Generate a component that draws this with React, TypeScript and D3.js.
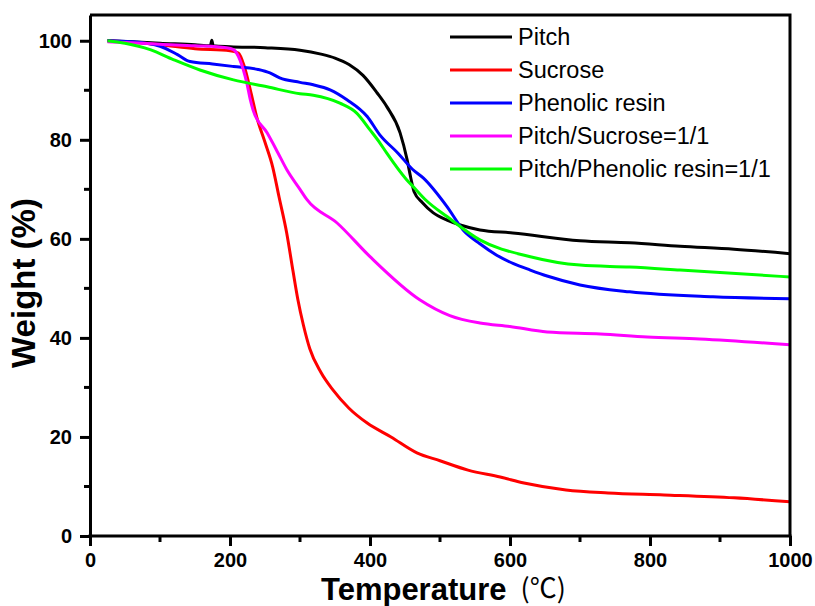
import React, { useEffect, useRef } from "react";
import * as d3 from "d3";

// TGA curves (temperature in ℃, weight in %)
const seriesNames = [
  "Pitch",
  "Sucrose",
  "Phenolic resin",
  "Pitch/Sucrose=1/1",
  "Pitch/Phenolic resin=1/1",
];
const seriesColors = ["#000000", "#ff0000", "#0000ff", "#ff00ff", "#00ff00"];

const pitchT = [25, 60, 100, 150, 172, 174, 176, 200, 250, 300, 330, 350, 370, 390, 410, 424, 443, 453, 458, 463, 475, 490, 510, 529, 557, 604, 700, 771, 843, 920, 1000];
const pitchW = [100, 99.8, 99.5, 99.2, 99.0, 100.1, 99.0, 98.8, 98.6, 98.1, 97.3, 96.5, 95.2, 93.0, 89.5, 86.7, 81.4, 76, 72.5, 69.5, 67.3, 65.3, 63.8, 62.8, 61.8, 61.2, 59.6, 59.2, 58.5, 57.9, 57.0];

const sucroseT = [25, 60, 100, 150, 200, 212, 220, 230, 238, 250, 261, 270, 281, 290, 297, 305, 314, 330, 347, 370, 396, 430, 467, 500, 540, 586, 620, 680, 740, 820, 920, 1000];
const sucroseW = [100, 99.7, 99.2, 98.4, 98.0, 97.5, 95, 89.5, 84.7, 79.5, 74.5, 68.5, 61.2, 53.5, 47.7, 42.5, 37.8, 33, 29.5, 25.8, 22.8, 20, 16.8, 15.2, 13.3, 11.9, 10.7, 9.3, 8.7, 8.3, 7.7, 6.9];

const phenolicT = [25, 60, 100, 125, 143, 175, 205, 240, 257, 271, 300, 319, 343, 367, 396, 414, 440, 461, 476, 510, 533, 557, 581, 605, 629, 653, 700, 771, 890, 1000];
const phenolicW = [100, 99.8, 98.9, 97.2, 95.8, 95.3, 94.8, 94.2, 93.5, 92.5, 91.6, 91.1, 90.1, 88.1, 84.7, 81, 77.3, 74, 72.3, 66.5, 61.8, 59.0, 56.7, 55.0, 53.7, 52.5, 50.7, 49.3, 48.3, 47.9];

const pitchSucroseT = [25, 60, 100, 150, 195, 205, 214, 224, 229, 233, 253, 268, 281, 300, 310, 353, 400, 471, 514, 557, 600, 653, 729, 796, 871, 1000];
const pitchSucroseW = [99.8, 99.6, 99.3, 99.0, 98.6, 98.2, 96.2, 91.5, 88.1, 86, 81.4, 77.5, 74, 70, 67.9, 63.2, 56.4, 47.7, 44.5, 43, 42.3, 41.2, 40.8, 40.2, 39.8, 38.6];

const pitchPhenolicT = [25, 50, 86, 119, 157, 205, 253, 300, 319, 357, 381, 400, 414, 424, 452, 462, 480, 510, 557, 629, 700, 771, 843, 1000];
const pitchPhenolicW = [100, 99.5, 98.2, 96.2, 94.1, 92.1, 90.7, 89.3, 89, 87.4, 85.4, 82, 79.4, 77.3, 72, 70.5, 67.8, 64.5, 59.8, 56.4, 54.7, 54.3, 53.7, 52.3];

const xMajorTicks = [0, 200, 400, 600, 800, 1000];
const xMinorTicks = [100, 300, 500, 700, 900];
const yMajorTicks = [0, 20, 40, 60, 80, 100];
const yMinorTicks = [10, 30, 50, 70, 90];

const allT = [pitchT, sucroseT, phenolicT, pitchSucroseT, pitchPhenolicT];
const allW = [pitchW, sucroseW, phenolicW, pitchSucroseW, pitchPhenolicW];

function App() {
  const ref = useRef(null);

  useEffect(() => {
    d3.select(ref.current).selectAll("*").remove();

    const W = 815;
    const H = 606;
    const left = 90, right = 790, top = 15, bottom = 536;

    const svg = d3
      .select(ref.current)
      .append("svg")
      .attr("width", W)
      .attr("height", H)
      .style("position", "absolute")
      .style("left", "0px")
      .style("top", "0px")
      .style("background", "#fff");

    const x = d3.scaleLinear().domain([0, 1000]).range([left, right]);
    const y = d3.scaleLinear().domain([0, 105.2]).range([bottom, top]);

    const font = "Arial, 'Liberation Sans', sans-serif";

    // curves
    const line = d3
      .line()
      .x((d) => x(d[0]))
      .y((d) => y(d[1]))
      .curve(d3.curveMonotoneX);

    allT.forEach((ts, i) => {
      const pts = ts.map((t, j) => [t, allW[i][j]]);
      svg
        .append("path")
        .attr("d", line(pts))
        .attr("fill", "none")
        .attr("stroke", seriesColors[i])
        .attr("stroke-width", 3)
        .attr("stroke-linejoin", "round");
    });

    // frame top/right
    svg
      .append("path")
      .attr("d", `M${left},${top}H${right}V${bottom}`)
      .attr("fill", "none")
      .attr("stroke", "#000")
      .attr("stroke-width", 3);

    // x axis
    const xAxis = svg.append("g").attr("transform", `translate(0,${bottom})`);
    xAxis.call(
      d3
        .axisBottom(x)
        .tickValues(xMajorTicks)
        .tickFormat(d3.format("d"))
        .tickSize(10)
        .tickPadding(7)
        .tickSizeOuter(0)
    );
    xAxis
      .selectAll(".minor")
      .data(xMinorTicks)
      .enter()
      .append("line")
      .attr("x1", (d) => x(d))
      .attr("x2", (d) => x(d))
      .attr("y1", 0)
      .attr("y2", 6)
      .attr("stroke", "#000")
      .attr("stroke-width", 3);

    // y axis
    const yAxis = svg.append("g").attr("transform", `translate(${left},0)`);
    yAxis.call(
      d3
        .axisLeft(y)
        .tickValues(yMajorTicks)
        .tickFormat(d3.format("d"))
        .tickSize(10)
        .tickPadding(8)
        .tickSizeOuter(0)
    );
    yAxis
      .selectAll(".minor")
      .data(yMinorTicks)
      .enter()
      .append("line")
      .attr("x1", 0)
      .attr("x2", -6)
      .attr("y1", (d) => y(d))
      .attr("y2", (d) => y(d))
      .attr("stroke", "#000")
      .attr("stroke-width", 3);

    [xAxis, yAxis].forEach((g) => {
      g.select(".domain").attr("stroke-width", 3);
      g.selectAll(".tick line").attr("stroke-width", 3);
      g.selectAll("text")
        .attr("font-family", font)
        .attr("font-weight", "bold")
        .attr("font-size", 20)
        .attr("fill", "#000");
    });
    // x axis line spans to the right edge
    xAxis.select(".domain").attr("d", `M${left - 1.5},0H${right + 1.5}`);

    // axis titles
    const xt = svg
      .append("text")
      .attr("x", 321)
      .attr("y", 600)
      .attr("font-family", font)
      .attr("font-weight", "bold")
      .attr("font-size", 31)
      .attr("fill", "#000")
      .text("Temperature");
    xt.append("tspan")
      .attr("dx", 14)
      .attr("dy", -2)
      .attr("font-weight", "normal")
      .attr("font-family", "'Noto Sans CJK SC', sans-serif")
      .attr("font-size", 27)
      .text("(℃)");

    svg
      .append("text")
      .attr("transform", "translate(35,283) rotate(-90)")
      .attr("text-anchor", "middle")
      .attr("font-family", font)
      .attr("font-weight", "bold")
      .attr("font-size", 33)
      .attr("fill", "#000")
      .text("Weight (%)");

    // legend
    const lg = svg.append("g");
    seriesNames.forEach((name, i) => {
      const ly = 37 + i * 33;
      lg.append("line")
        .attr("x1", 450)
        .attr("x2", 512)
        .attr("y1", ly)
        .attr("y2", ly)
        .attr("stroke", seriesColors[i])
        .attr("stroke-width", 3);
      lg.append("text")
        .attr("x", 518)
        .attr("y", ly)
        .attr("dy", "0.36em")
        .attr("font-family", font)
        .attr("font-size", 23.5)
        .attr("fill", "#000")
        .text(name);
    });
  }, []);

  return <div ref={ref}></div>;
}

export default App;
